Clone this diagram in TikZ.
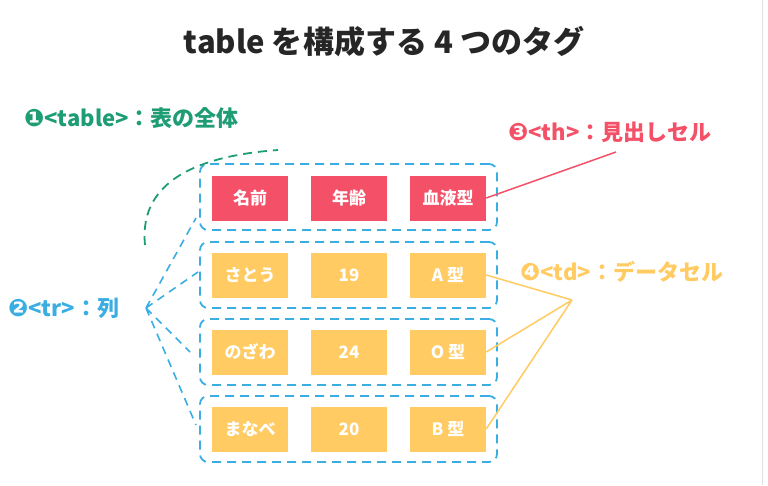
\documentclass[tikz,border=0pt]{standalone}
\usepackage{fontspec}
\setmainfont{Noto Sans CJK JP}
\newfontfamily\dv{DejaVu Sans}
\newcommand\cnumx[1]{{\fontsize{24}{24}\selectfont\dv #1}}
\begin{document}
\begin{tikzpicture}[x=1pt,y=-1pt,font=\bfseries]
\definecolor{cg}{HTML}{1E9C74}
\definecolor{cb}{HTML}{3AAEE2}
\definecolor{cr}{HTML}{F45067}
\definecolor{cy}{HTML}{FFCB62}
\tikzset{
 cell/.style={minimum width=76pt,minimum height=45pt,inner sep=0pt,text=white,font=\fontsize{17}{17}\selectfont\bfseries},
 th/.style={cell,fill=cr},
 td/.style={cell,fill=cy},
 row/.style={draw=cb,line width=1.8pt,dash pattern=on 9pt off 6pt,rounded corners=8pt,minimum width=297pt,minimum height=66pt,inner sep=0pt},
 lab/.style={font=\fontsize{22}{22}\selectfont\bfseries,anchor=west,inner sep=0pt}
}
\useasboundingbox (0,0) rectangle (768,485);
\draw[gray!25,line width=1pt] (762,0) -- (762,485);
\node[font=\fontsize{31}{31}\selectfont\bfseries,text=black!85] (title) at (384,42) {table を構成する 4 つのタグ};
% rows
\node[row] (r1) at (348.5,197) {};
\node[row] (r2) at (348.5,275) {};
\node[row] (r3) at (348.5,352) {};
\node[row] (r4) at (348.5,429) {};
\node[th] (a1) at (250,198) {名前};
\node[th] (b1) at (349,198) {年齢};
\node[th] (c1) at (448,198) {血液型};
\node[td] (a2) at (250,275) {さとう};
\node[td] (b2) at (349,275) {19};
\node[td] (c2) at (448,275) {A 型};
\node[td] (a3) at (250,352) {のざわ};
\node[td] (b3) at (349,352) {24};
\node[td] (c3) at (448,352) {O 型};
\node[td] (a4) at (250,429) {まなべ};
\node[td] (b4) at (349,429) {20};
\node[td] (c4) at (448,429) {B 型};
% labels
\node[lab,text=cg] (l1) at (24,118) {\cnumx{❶}<table>：表の全体};
\node[lab,text=cb] (l2) at (8,308) {\cnumx{❷}<tr>：列};
\node[lab,text=cr] (l3) at (508,132) {\cnumx{❸}<th>：見出しセル};
\node[lab,text=cy] (l4) at (520,272) {\cnumx{❹}<td>：データセル};
% connectors
\coordinate (g1) at (145,245);
\coordinate (g2) at (278,150);
\draw[cg,line width=1.8pt,dash pattern=on 9pt off 6pt] (g1) .. controls (138,175) and (210,155) .. (g2);
\coordinate (bh) at (146,308);
\draw[cb,line width=1.6pt,dash pattern=on 8pt off 6pt] (bh) -- (196,218) (bh) -- (198,272) (bh) -- (190,352) (bh) -- (196,425);
\coordinate (rp) at (616,152);
\draw[cr,line width=1.5pt] (c1.east) -- (rp);
\coordinate (yp) at (572,300);
\draw[cy,line width=1.5pt] (c2.east) -- (yp) (c3.east) -- (yp) (c4.east) -- (yp);
\end{tikzpicture}
\end{document}
